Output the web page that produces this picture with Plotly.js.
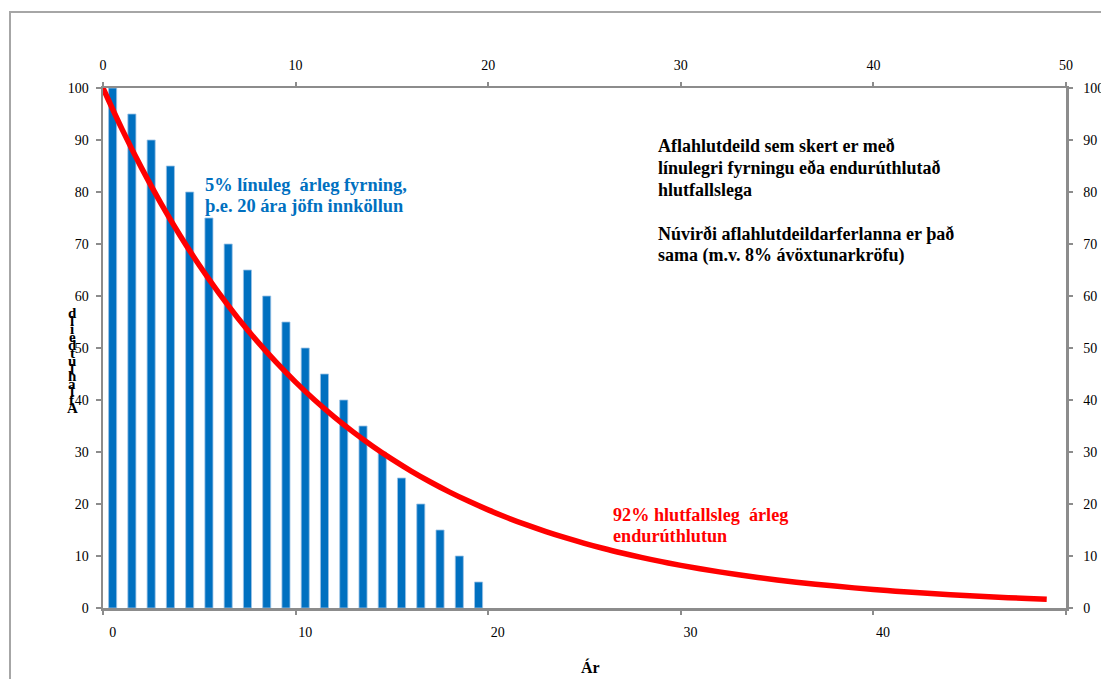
<!DOCTYPE html>
<html>
<head>
<meta charset="utf-8">
<script src="https://cdn.plot.ly/plotly-3.0.1.min.js"></script>
<style>html,body{margin:0;padding:0;background:#fff;}#chart{width:1101px;height:679px;}</style>
</head>
<body>
<div id="chart"></div>
<script>
// Linear depreciation: 5% per year, 20 years
var barYears = [0,1,2,3,4,5,6,7,8,9,10,11,12,13,14,15,16,17,18,19];
var barValues = [100,95,90,85,80,75,70,65,60,55,50,45,40,35,30,25,20,15,10,5];

// Proportional reallocation, 92% retained each year
var lineYears = [0,1,2,3,4,5,6,7,8,9,10,11,12,13,14,15,16,17,18,19,20,21,22,23,24,25,26,27,28,29,30,31,32,33,34,35,36,37,38,39,40,41,42,43,44,45,46,47,48,49];
var lineValues = [100,92,84.64,77.87,71.64,65.91,60.64,55.78,51.32,47.22,43.44,39.96,36.77,33.83,31.12,28.63,26.34,24.23,22.29,20.51,18.87,17.36,15.97,14.69,13.52,12.44,11.44,10.53,9.68,8.91,8.20,7.54,6.94,6.38,5.87,5.40,4.97,4.57,4.21,3.87,3.56,3.28,3.01,2.77,2.55,2.35,2.16,1.99,1.83,1.68];

var bottomTickVals = [0,10,20,30,40];
var bottomTickText = ['0','10','20','30','40'];
var yTickVals = [0,10,20,30,40,50,60,70,80,90,100];

var yTitle = 'Aflahlutdeild';
var xTitle = 'Ár';
var blueLines = ['5% línuleg  árleg fyrning,', 'þ.e. 20 ára jöfn innköllun'];
var blackLines = ['Aflahlutdeild sem skert er með', 'línulegri fyrningu eða endurúthlutað', 'hlutfallslega', 'Núvirði aflahlutdeildarferlanna er það', 'sama (m.v. 8% ávöxtunarkröfu)'];
var redLines = ['92% hlutfallsleg  árleg', 'endurúthlutun'];

var serif = 'Liberation Serif';
var axisGray = '#8c8c8c';

// pixel -> paper helpers (plot area: x 103..1066, y 88..608)
function px(x) { return (x - 103) / 963; }
function py(y) { return (608 - y) / 520; }

var traces = [
  {
    type: 'bar', x: barYears, y: barValues, width: 0.42,
    marker: {color: '#0070C0', line: {color: '#9dc3e6', width: 0.8}},
    xaxis: 'x', yaxis: 'y', hoverinfo: 'x+y'
  },
  {
    type: 'scatter', mode: 'lines', x: lineYears, y: lineValues,
    line: {color: '#FF0000', width: 5.5, shape: 'spline'},
    xaxis: 'x2', yaxis: 'y2', hoverinfo: 'x+y'
  }
];

var annotations = [];
function addLines(lines, left, centers, color, size) {
  for (var i = 0; i < lines.length; i++) {
    annotations.push({xref: 'paper', yref: 'paper', x: px(left), y: py(centers[i]),
      xanchor: 'left', yanchor: 'middle', text: '<b>' + lines[i] + '</b>', showarrow: false, align: 'left',
      font: {family: serif, size: size, color: color}});
  }
}
addLines(blueLines, 203, [185, 206], '#0070C0', 18.4);
addLines(blackLines, 656, [146, 168, 190, 234, 256], '#000000', 18);
addLines(redLines, 611, [515, 536], '#FF0000', 18.2);

annotations.push({xref: 'paper', yref: 'paper', x: px(590), y: py(667), xanchor: 'center', yanchor: 'middle',
  text: '<b>' + xTitle + '</b>', showarrow: false, font: {family: serif, size: 16, color: '#000000'}});

// vertical stacked y-axis title, letters from bottom (first) to top (last)
var letters = yTitle.split('');
for (var i = 0; i < letters.length; i++) {
  var yy = 408 - i * 7.9;
  annotations.push({xref: 'paper', yref: 'paper', x: px(72), y: py(yy),
    xanchor: 'center', yanchor: 'middle', text: '<b>' + letters[i] + '</b>', showarrow: false,
    font: {family: serif, size: 15, color: '#000000'}});
}

var tickFont = {family: serif, size: 14, color: '#000000'};

var layout = {
  width: 1101, height: 679,
  margin: {l: 103, r: 35, t: 88, b: 71, pad: 0},
  paper_bgcolor: '#ffffff', plot_bgcolor: '#ffffff',
  showlegend: false, bargap: 0,
  font: {family: serif, size: 14, color: '#000000'},
  xaxis: {
    range: [-0.5, 49.5], type: 'linear', tickmode: 'array', tickvals: bottomTickVals, ticktext: bottomTickText,
    ticks: 'outside', ticklen: 0, tickcolor: axisGray, ticklabelstandoff: 10,
    minor: {tickmode: 'array', tickvals: [-0.5, 9.5, 19.5, 29.5, 39.5, 49.5], ticks: 'outside', ticklen: 4, tickcolor: axisGray, tickwidth: 2, showgrid: false},
    showline: true, linecolor: axisGray, linewidth: 2.5, showgrid: false, zeroline: false,
    tickfont: tickFont, fixedrange: true
  },
  yaxis: {
    range: [0, 100], tickmode: 'array', tickvals: yTickVals, ticks: 'outside', ticklen: 5, tickwidth: 2, tickcolor: axisGray,
    showline: true, linecolor: axisGray, linewidth: 2.5, showgrid: false, zeroline: false, ticklabelstandoff: 4,
    tickfont: tickFont, fixedrange: true
  },
  xaxis2: {
    range: [0, 50], overlaying: 'x', side: 'top', anchor: 'y2', tickmode: 'linear', tick0: 0, dtick: 10,
    ticks: 'outside', ticklen: 4, tickwidth: 2, tickcolor: axisGray, ticklabelstandoff: 6,
    showline: true, linecolor: axisGray, linewidth: 2.5, showgrid: false, zeroline: false,
    tickfont: tickFont, fixedrange: true
  },
  yaxis2: {
    range: [0, 100], overlaying: 'y', side: 'right', anchor: 'x2', tickmode: 'array', tickvals: yTickVals,
    ticks: 'outside', ticklen: 4, tickwidth: 2, tickcolor: axisGray, ticklabelstandoff: 8,
    showline: true, linecolor: axisGray, linewidth: 2.5, showgrid: false, zeroline: false,
    tickfont: tickFont, fixedrange: true
  },
  annotations: annotations,
  shapes: [
    {type: 'rect', xref: 'paper', yref: 'paper', x0: px(10), x1: 1.2, y0: -0.3, y1: py(12),
     line: {color: '#a6a6a6', width: 2}, fillcolor: 'rgba(0,0,0,0)', layer: 'below'}
  ]
};

Plotly.newPlot('chart', traces, layout, {displayModeBar: false, staticPlot: true});
</script>
</body>
</html>
